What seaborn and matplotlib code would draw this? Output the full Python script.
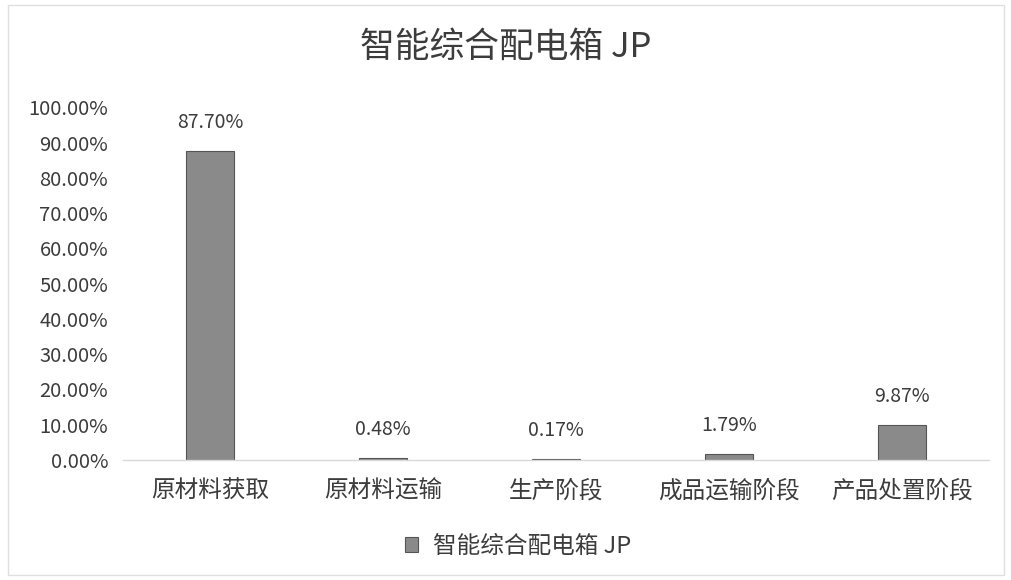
import seaborn as sns
import pandas as pd
import matplotlib.pyplot as plt
from matplotlib.patches import Rectangle, Patch
from matplotlib.ticker import PercentFormatter

# data
stages = ['原材料获取', '原材料运输', '生产阶段', '成品运输阶段', '产品处置阶段']
shares = [0.8770, 0.0048, 0.0017, 0.0179, 0.0987]
series_name = '智能综合配电箱 JP'
y_ticks = [i / 10 for i in range(11)]

df = pd.DataFrame({'stage': stages, 'share': shares})

sns.set_style('white')
plt.rcParams['font.family'] = ['Noto Sans CJK SC', 'DejaVu Sans']

text_col = '#3c3c3c'
bar_col = '#8a8a8a'

fig = plt.figure(figsize=(10.12, 5.8), dpi=100)
ax = fig.add_axes([0.122, 0.207, 0.855, 0.608])

sns.barplot(data=df, x='stage', y='share', color=bar_col, width=0.28,
            edgecolor='#555555', linewidth=0.8, saturation=1, ax=ax)

# value labels
for i, v in enumerate(shares):
    ax.annotate(f'{v*100:.2f}%', (i, v), xytext=(0, 13), textcoords='offset points',
                ha='center', va='bottom', fontsize=14, color=text_col)

ax.set_ylim(0, 1)
ax.set_xlim(-0.5, len(stages) - 0.5)
ax.set_yticks(y_ticks)
ax.yaxis.set_major_formatter(PercentFormatter(1.0, decimals=2))
ax.tick_params(axis='y', labelsize=14.5, colors=text_col, length=0, pad=11)
ax.tick_params(axis='x', labelsize=17, colors=text_col, length=0, pad=14)
ax.set_xlabel('')
ax.set_ylabel('')

for s in ['top', 'right', 'left']:
    ax.spines[s].set_visible(False)
ax.spines['bottom'].set_color('#d9d9d9')
ax.spines['bottom'].set_linewidth(1)

fig.text(0.5, 0.918, series_name, ha='center', va='center', fontsize=25, color=text_col)

handle = Patch(facecolor=bar_col, edgecolor='#555555', linewidth=0.8)
fig.legend([handle], [series_name], loc='center', bbox_to_anchor=(0.512, 0.058),
           frameon=False, fontsize=17, labelcolor=text_col,
           handlelength=0.55, handleheight=0.55, handletextpad=0.6)

# outer chart border
fig.patches.append(Rectangle((0.008, 0.008), 0.984, 0.984, transform=fig.transFigure,
                             fill=False, edgecolor='#e0e0e0', linewidth=1))

fig.savefig('out.png', dpi=100)
